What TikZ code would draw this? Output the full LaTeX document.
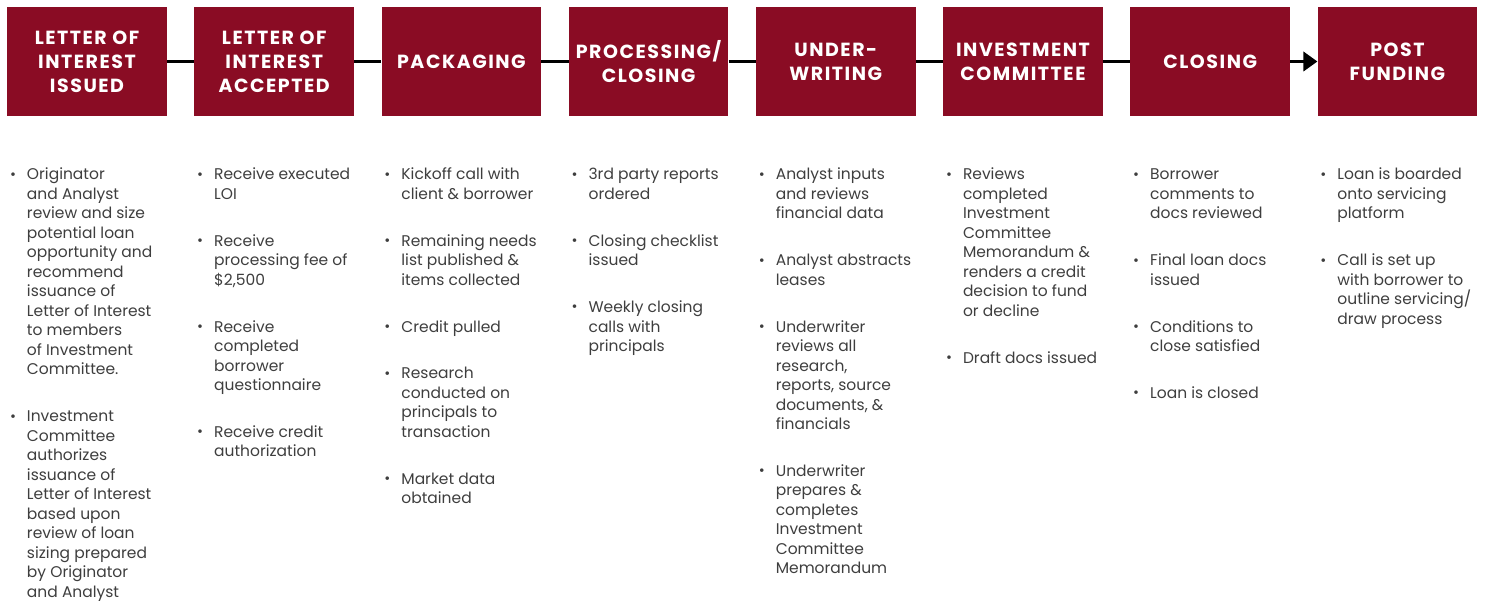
\documentclass[tikz,border=0pt]{standalone}
\usepackage{fontspec}
\setmainfont{Poppins}
\usetikzlibrary{arrows.meta}

\definecolor{boxred}{RGB}{138,12,36}
\definecolor{bodygrey}{RGB}{62,62,62}

% bullet hung to the left of the text, with a fixed first-line height
\newcommand{\bul}{\rule{0pt}{13pt}\llap{\raisebox{0.6pt}{\fontsize{14.5}{14.5}\selectfont\textbullet}\hspace{11pt}}}

\begin{document}
\begin{tikzpicture}[x=1pt,y=-1pt,
    stepbox/.style={fill=boxred,text=white,minimum width=159.5pt,minimum height=108pt,
        inner sep=0pt,align=center,
        font=\fontsize{19}{24}\selectfont\bfseries\addfontfeature{LetterSpace=8}},
    steptext/.style={anchor=north west,align=left,inner sep=0pt,text=bodygrey,
        font=\fontsize{15.5}{19.5}\selectfont},
    conn/.style={line width=3.5pt,black}]
\useasboundingbox (0,0) rectangle (1489,602);

\node[stepbox] (b1) at (87,61.5) {LETTER OF\\INTEREST\\ISSUED};
\node[stepbox] (b2) at (274.2,61.5) {LETTER OF\\INTEREST\\ACCEPTED};
\node[stepbox] (b3) at (461.4,61.5) {PACKAGING};
\node[stepbox] (b4) at (648.6,61.5) {PROCESSING/\\CLOSING};
\node[stepbox] (b5) at (835.8,61.5) {UNDER-\\WRITING};
\node[stepbox] (b6) at (1023,61.5) {INVESTMENT\\COMMITTEE};
\node[stepbox] (b7) at (1210.2,61.5) {CLOSING};
\node[stepbox] (b8) at (1397.4,61.5) {POST\\FUNDING};

\foreach \i/\j in {1/2,2/3,3/4,4/5,5/6,6/7}
    \draw[conn] (b\i) -- (b\j);
\draw[conn,-{Triangle[length=14pt,width=19pt]}] (b7) -- (b8);

\node[steptext] (t1) at (26.8,166.5) {\bul Originator\\and Analyst\\review and size\\potential loan\\
    opportunity and\\recommend\\issuance of\\Letter of Interest\\to members\\of Investment\\
    Committee.\\[27.4pt]
    \bul Investment\\Committee\\authorizes\\issuance of\\Letter of Interest\\based upon\\
    review of loan\\sizing prepared\\by Originator\\and Analyst};
\node[steptext] (t2) at (214,166.5) {\bul Receive executed\\LOI\\[27.4pt]
    \bul Receive\\processing fee of\\\$2,500\\[27.4pt]
    \bul Receive\\completed\\borrower\\questionnaire\\[27.4pt]
    \bul Receive credit\\authorization};
\node[steptext] (t3) at (401.2,166.5) {\bul Kickoff call with\\client \& borrower\\[27.4pt]
    \bul Remaining needs\\list published \&\\items collected\\[27.4pt]
    \bul Credit pulled\\[27.4pt]
    \bul Research\\conducted on\\principals to\\transaction\\[27.4pt]
    \bul Market data\\obtained};
\node[steptext] (t4) at (588.4,166.5) {\bul 3rd party reports\\ordered\\[27.4pt]
    \bul Closing checklist\\issued\\[27.4pt]
    \bul Weekly closing\\calls with\\principals};
\node[steptext] (t5) at (775.6,166.5) {\bul Analyst inputs\\and reviews\\financial data\\[27.4pt]
    \bul Analyst abstracts\\leases\\[27.4pt]
    \bul Underwriter\\reviews all\\research,\\reports, source\\documents, \&\\financials\\[27.4pt]
    \bul Underwriter\\prepares \&\\completes\\Investment\\Committee\\Memorandum};
\node[steptext] (t6) at (962.8,166.5) {\bul Reviews\\completed\\Investment\\Committee\\
    Memorandum \&\\renders a credit\\decision to fund\\or decline\\[27.4pt]
    \bul Draft docs issued};
\node[steptext] (t7) at (1150,166.5) {\bul Borrower\\comments to\\docs reviewed\\[27.4pt]
    \bul Final loan docs\\issued\\[27.4pt]
    \bul Conditions to\\close satisfied\\[27.4pt]
    \bul Loan is closed};
\node[steptext] (t8) at (1337.2,166.5) {\bul Loan is boarded\\onto servicing\\platform\\[27.4pt]
    \bul Call is set up\\with borrower to\\outline servicing/\\draw process};
\end{tikzpicture}
\end{document}
